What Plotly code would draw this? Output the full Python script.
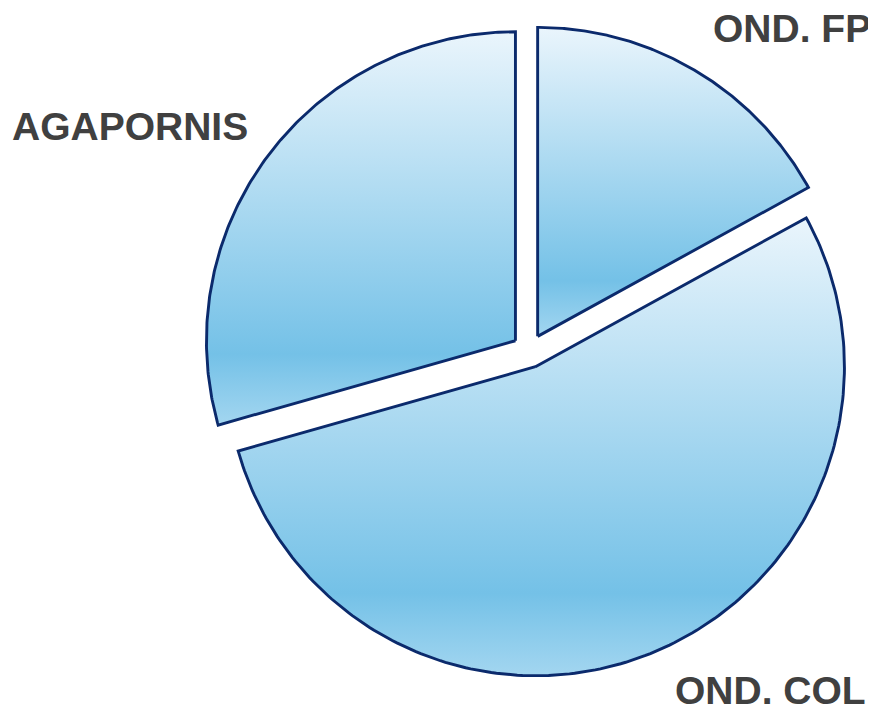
import numpy as np
import plotly.graph_objects as go

categories = ["OND. FP", "OND. COL", "AGAPORNIS"]
values = [17, 53.6, 29.4]

# page body has an 8px margin; design in screenshot pixels, then shift
OFF = 8
W, H = 876 - OFF, 713 - OFF
cx_px, cy_px = 529 - OFF, 351 - OFF
r_px = 309
pull_px = 17

scale = r_px  # pixels per unit
x_range = [-cx_px / scale, (W - cx_px) / scale]
y_range = [-(H - cy_px) / scale, cy_px / scale]
pull = pull_px / scale

colorscale = [[0, "#a3d6f0"], [0.18, "#74c1e7"], [1, "#eaf5fc"]]
edge = "#0b2a6c"

fig = go.Figure()
total = sum(values)
start = 0.0
for name, v in zip(categories, values):
    span = 360.0 * v / total
    a0, a1 = np.radians(start), np.radians(start + span)
    mid = (a0 + a1) / 2
    ox, oy = pull * np.sin(mid), pull * np.cos(mid)
    t = np.linspace(a0, a1, 200)
    xs = np.concatenate([[ox], ox + np.sin(t), [ox]])
    ys = np.concatenate([[oy], oy + np.cos(t), [oy]])
    fig.add_trace(go.Scatter(
        x=xs, y=ys, mode="lines", fill="toself", name=name,
        line=dict(color=edge, width=2.9),
        fillgradient=dict(type="vertical", colorscale=colorscale),
        hoverinfo="name", showlegend=False,
    ))
    start += span

label_font = dict(family="Liberation Sans, Arial, sans-serif", size=39, color="#404040")

def px_x(x):
    return (x - OFF) / W

def px_y(y):
    return 1 - (y - OFF) / H

fig.add_annotation(text="<b>OND. FP</b>", xref="paper", yref="paper", x=px_x(873), y=px_y(28),
                   xanchor="right", yanchor="middle", showarrow=False, font=label_font)
fig.add_annotation(text="<b>AGAPORNIS</b>", xref="paper", yref="paper", x=px_x(10), y=px_y(126),
                   xanchor="left", yanchor="middle", showarrow=False, font=label_font)
fig.add_annotation(text="<b>OND. COL</b>", xref="paper", yref="paper", x=px_x(868), y=px_y(690),
                   xanchor="right", yanchor="middle", showarrow=False, font=label_font)

fig.update_xaxes(range=x_range, visible=False, showgrid=False, zeroline=False)
fig.update_yaxes(range=y_range, visible=False, showgrid=False, zeroline=False)
fig.update_layout(width=W, height=H, margin=dict(l=0, r=0, t=0, b=0),
                  paper_bgcolor="white", plot_bgcolor="white")
fig.write_html("out.html")
